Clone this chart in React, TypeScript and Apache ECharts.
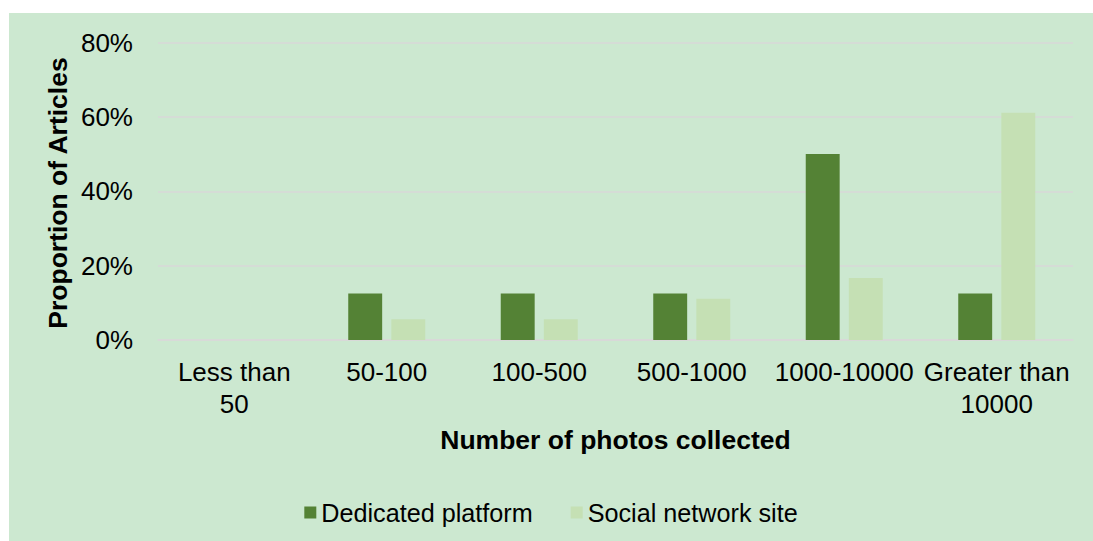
import React, { useEffect, useRef } from "react";
import * as echarts from "echarts";

const categories = ["Less than\n50", "50-100", "100-500", "500-1000", "1000-10000", "Greater than\n10000"];
const dedicatedPlatform = [0, 12.5, 12.5, 12.5, 50, 12.5];
const socialNetworkSite = [0, 5.56, 5.56, 11.11, 16.67, 61.11];
const yTicks = [0, 20, 40, 60, 80];
const xTitle = "Number of photos collected";
const yTitle = "Proportion of Articles";

const FONT = "'Liberation Sans', Arial, sans-serif";

export default function App() {
  const ref = useRef<HTMLDivElement>(null);
  useEffect(() => {
    if (!ref.current) return;
    const chart = echarts.init(ref.current, null, { renderer: "svg" });
    chart.setOption({
      animation: false,
      backgroundColor: "#CCE8D0",
      textStyle: { fontFamily: FONT },
      grid: { left: 149, right: 20, top: 29.5, bottom: 201, containLabel: false },
      legend: {
        bottom: 11,
        left: "center",
        itemWidth: 12,
        itemHeight: 12,
        itemGap: 38,
        icon: "rect",
        textStyle: { fontSize: 25.2, color: "#000", fontFamily: FONT },
        data: ["Dedicated platform", "Social network site"],
      },
      xAxis: {
        type: "category",
        data: categories,
        axisLine: { show: true, lineStyle: { color: "#D9D9D9", width: 1.5 } },
        axisTick: { show: false },
        axisLabel: {
          interval: 0,
          fontSize: 26,
          lineHeight: 32,
          color: "#000",
          margin: 16,
          fontFamily: FONT,
        },
      },
      yAxis: {
        type: "value",
        min: yTicks[0],
        max: yTicks[yTicks.length - 1],
        interval: 20,
        axisLine: { show: false },
        axisTick: { show: false },
        splitLine: { lineStyle: { color: "#D9D9D9", width: 1.5 } },
        axisLabel: {
          formatter: (v: number) => `${v}%`,
          fontSize: 26,
          color: "#000",
          margin: 25,
          fontFamily: FONT,
        },
      },
      graphic: [
        {
          type: "text",
          x: 149 + (1064 - 149) / 2,
          y: 427,
          style: {
            text: xTitle,
            fontSize: 26.5,
            fontWeight: "bold",
            fill: "#000",
            fontFamily: FONT,
            align: "center",
            verticalAlign: "middle",
          },
        },
        {
          type: "text",
          x: 49,
          y: 180,
          rotation: Math.PI / 2,
          style: {
            text: yTitle,
            fontSize: 26.5,
            fontWeight: "bold",
            fill: "#000",
            fontFamily: FONT,
            align: "center",
            verticalAlign: "middle",
          },
        },
      ],
      series: [
        {
          name: "Dedicated platform",
          type: "bar",
          data: dedicatedPlatform,
          barGap: "27%",
          barCategoryGap: "49.5%",
          itemStyle: { color: "#548235" },
        },
        {
          name: "Social network site",
          type: "bar",
          data: socialNetworkSite,
          itemStyle: { color: "#C5E0B4" },
        },
      ],
    });
    return () => chart.dispose();
  }, []);
  return (
    <div
      ref={ref}
      style={{ position: "absolute", left: 9, top: 13, width: 1084, height: 528 }}
    />
  );
}
